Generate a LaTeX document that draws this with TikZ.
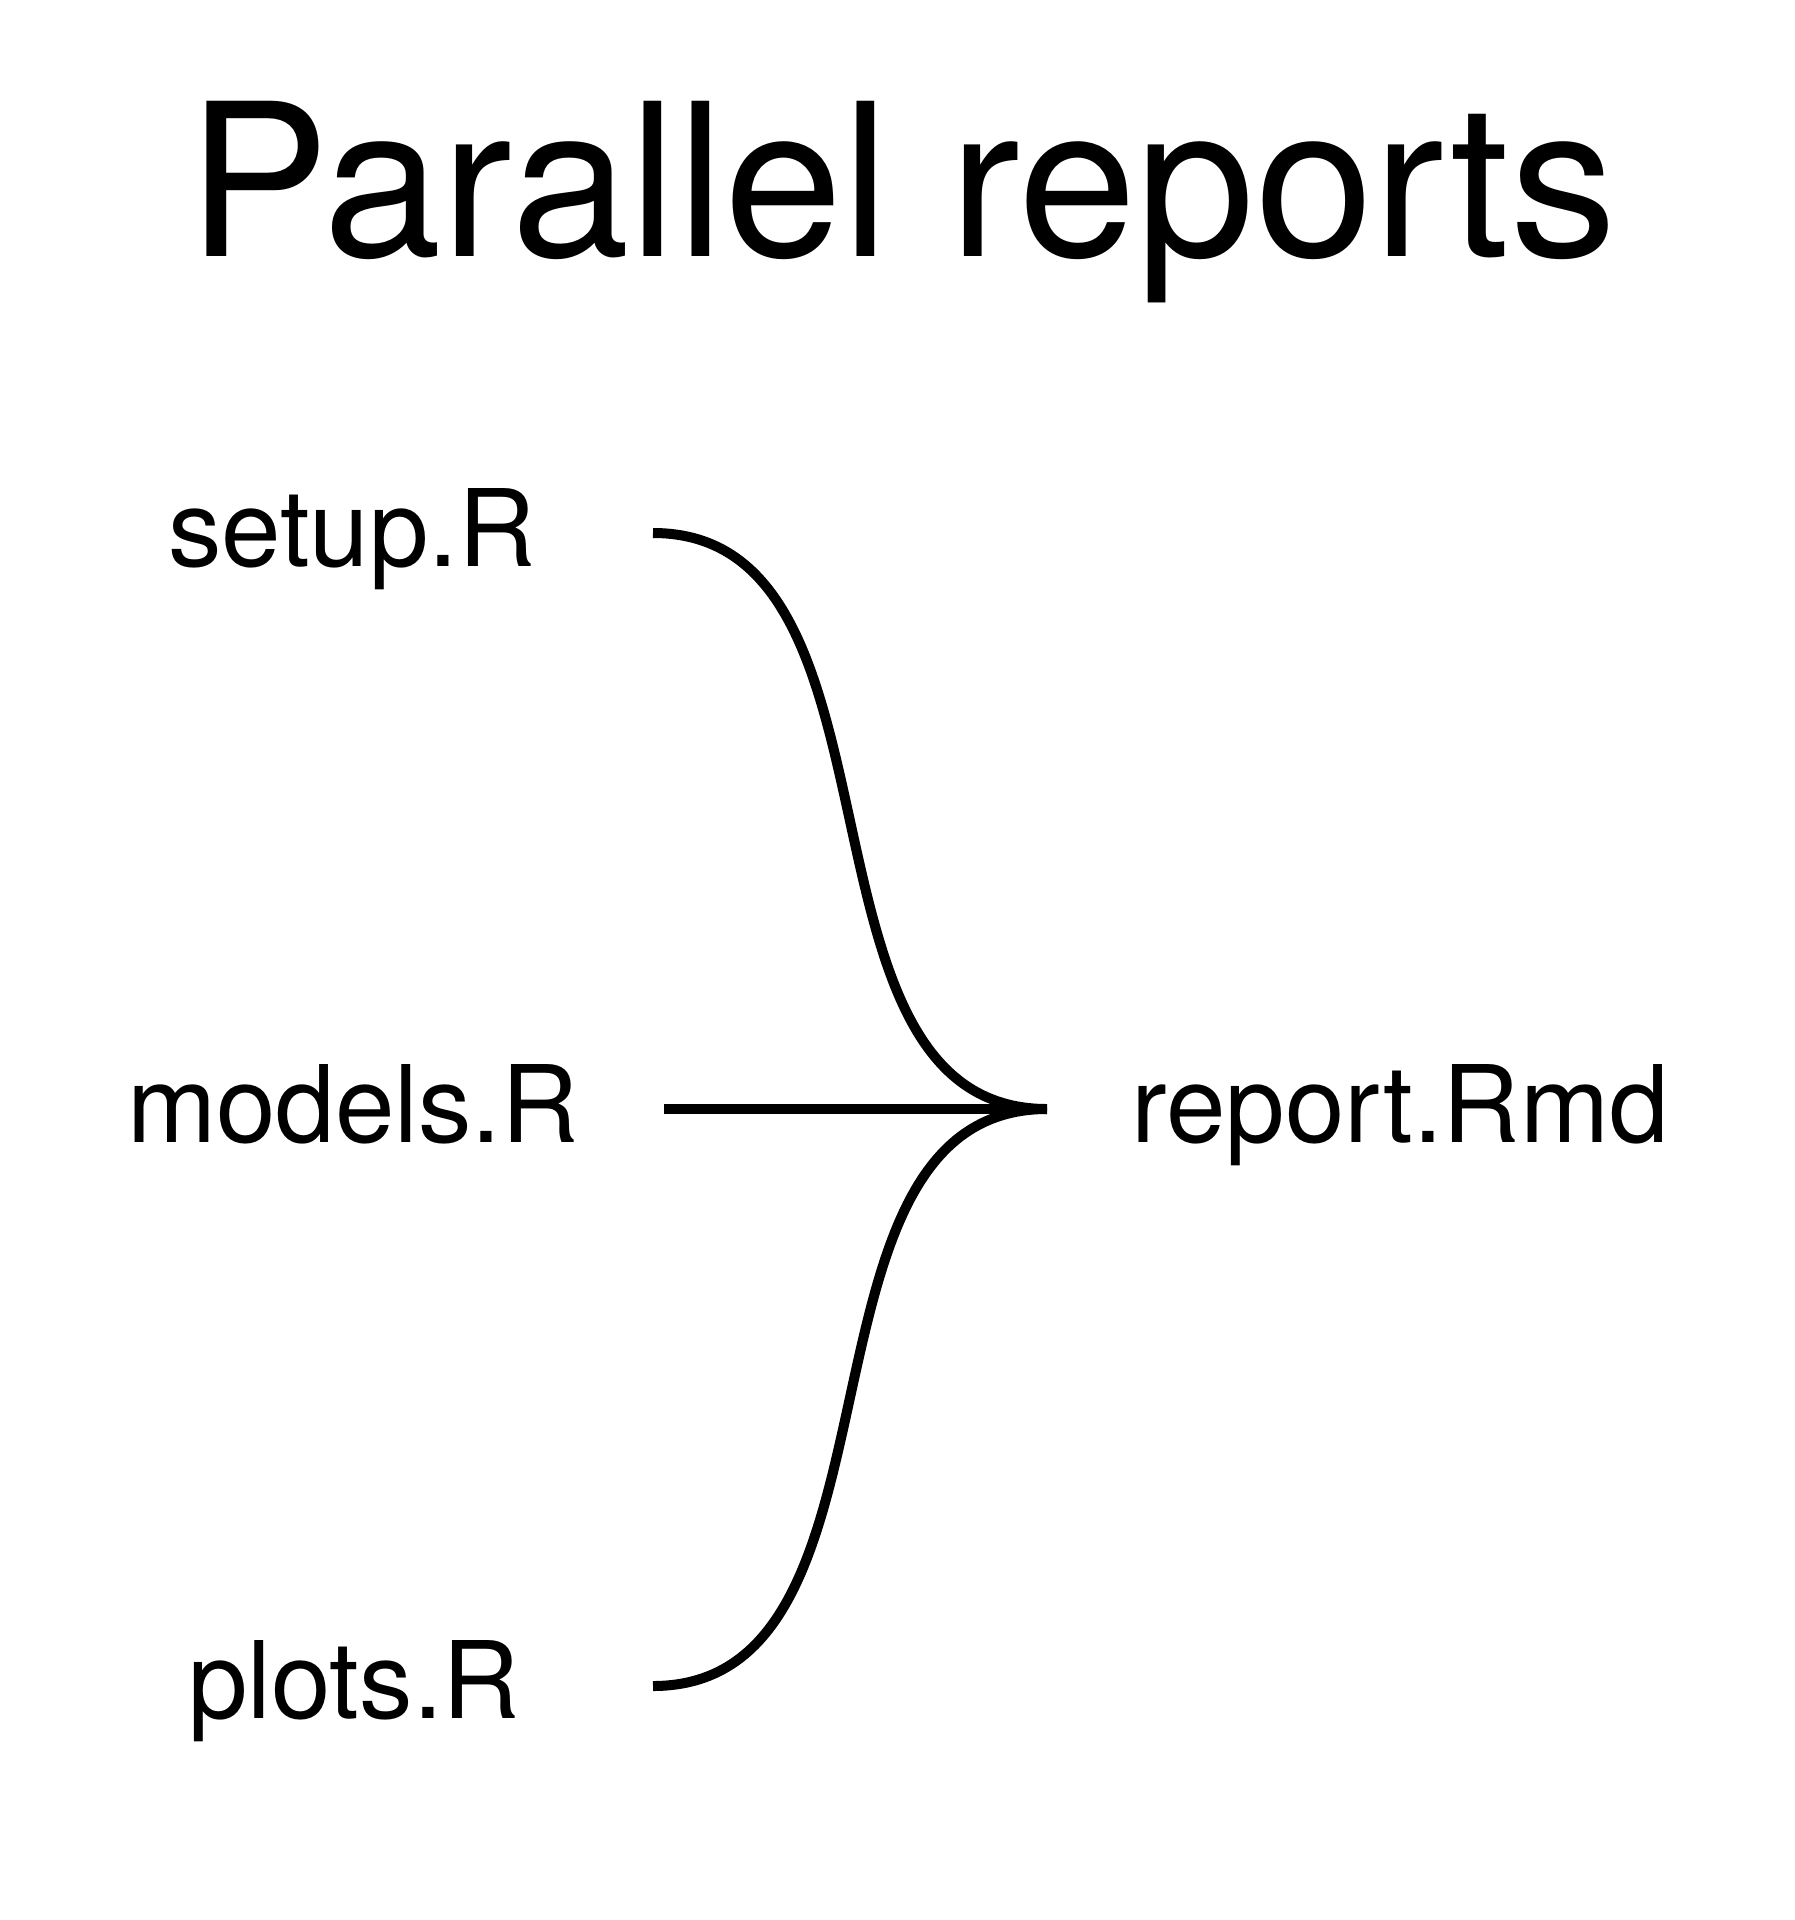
\documentclass[tikz,border=0pt]{standalone}
\usepackage{fontspec}
\setmainfont{TeX Gyre Heros}
\begin{document}
\begin{tikzpicture}[x=1pt,y=-1pt,
  lbl/.style={anchor=base,inner sep=0pt,font=\fontsize{107}{120}\selectfont},
  ttl/.style={anchor=base,inner sep=0pt,font=\fontsize{213}{250}\selectfont},
  link/.style={line width=10pt,black}]
\useasboundingbox[fill=white] (0,0) rectangle (1795,1920);
\node[ttl] (title) at (902,256) {Parallel reports};
\node[lbl] (setup) at (352,566) {setup.R};
\node[lbl] (models) at (353,1142) {models.R};
\node[lbl] (plots) at (354,1718) {plots.R};
\node[lbl] (report) at (1400,1142) {report.Rmd};
\coordinate (setupE) at (653,533);
\coordinate (modelsE) at (664,1109);
\coordinate (plotsE) at (653,1686);
\coordinate (reportW) at (1047,1109);
\draw[link] (setupE) .. controls (921,533) and (779,1109) .. (reportW);
\draw[link] (modelsE) -- (reportW);
\draw[link] (plotsE) .. controls (921,1686) and (779,1109) .. (reportW);
\end{tikzpicture}
\end{document}
